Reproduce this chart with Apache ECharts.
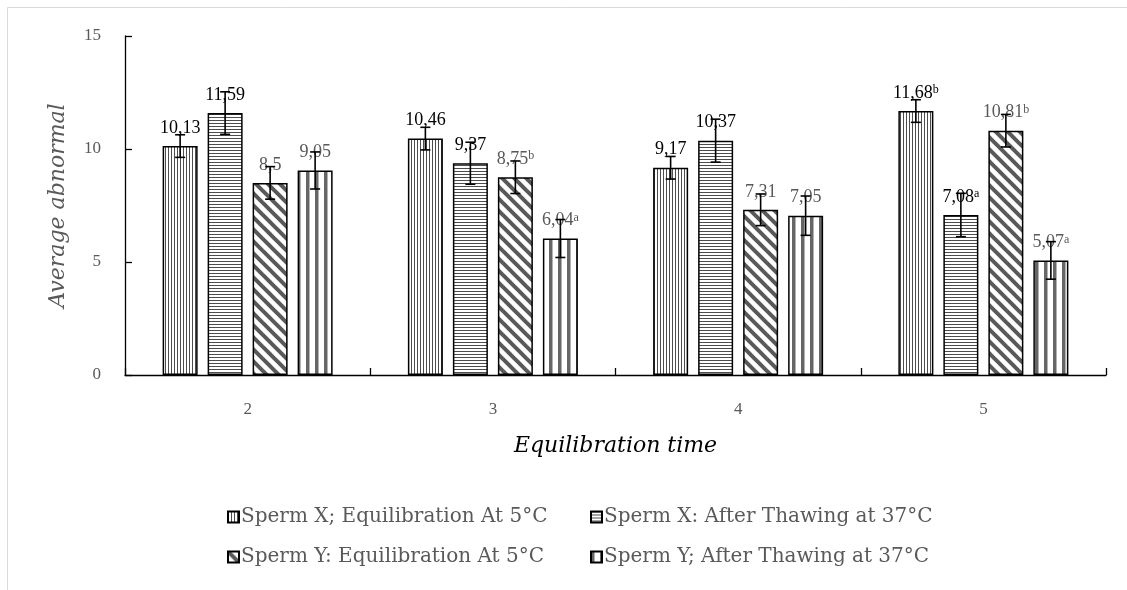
<!DOCTYPE html>
<html>
<head>
<meta charset="utf-8">
<script src="https://cdn.jsdelivr.net/npm/echarts@6/dist/echarts.min.js"></script>
<style>html,body{margin:0;padding:0;background:#fff}#c{width:1127px;height:590px}</style>
</head>
<body>
<div id="c"></div>
<script>
// ---- data ----
const categories = ['2', '3', '4', '5'];
const seriesNames = [
  'Sperm X; Equilibration At 5°C',
  'Sperm X: After Thawing at 37°C',
  'Sperm Y: Equilibration At 5°C',
  'Sperm Y; After Thawing at 37°C'
];
const spermXEquil = [10.13, 10.46, 9.17, 11.68];
const spermXThaw = [11.59, 9.37, 10.37, 7.08];
const spermYEquil = [8.5, 8.75, 7.31, 10.81];
const spermYThaw = [9.05, 6.04, 7.05, 5.07];
const errXEquil = [0.5, 0.5, 0.5, 0.5];
const errXThaw = [0.94, 0.93, 0.95, 0.96];
const errYEquil = [0.72, 0.72, 0.7, 0.72];
const errYThaw = [0.82, 0.84, 0.87, 0.83];
const labelsXEquil = ['10,13', '10,46', '9,17', '11,68|b'];
const labelsXThaw = ['11,59', '9,37', '10,37', '7,08|a'];
const labelsYEquil = ['8,5', '8,75|b', '7,31', '10,81|b'];
const labelsYThaw = ['9,05', '6,04|a', '7,05', '5,07|a'];
const yTicks = { min: 0, max: 15, interval: 5 };

const values = [spermXEquil, spermXThaw, spermYEquil, spermYThaw];
const errors = [errXEquil, errXThaw, errYEquil, errYThaw];
const labels = [labelsXEquil, labelsXThaw, labelsYEquil, labelsYThaw];

// ---- patterns ----
function mk(w, h, draw) {
  const c = document.createElement('canvas');
  c.width = w; c.height = h;
  const g = c.getContext('2d');
  g.fillStyle = '#fff'; g.fillRect(0, 0, w, h);
  draw(g, w, h);
  return { image: c, repeat: 'repeat' };
}
const pVert = mk(3, 3, (g) => { g.fillStyle = '#4d4d4d'; g.fillRect(0, 0, 1, 3); });
const pHorz = mk(3, 3, (g) => { g.fillStyle = '#4d4d4d'; g.fillRect(0, 0, 3, 1); });
const pDiag = mk(12, 12, (g, w, h) => {
  g.strokeStyle = '#595959'; g.lineWidth = 4; g.lineCap = 'square';
  for (const o of [-12, 0, 12]) { g.beginPath(); g.moveTo(o, 0); g.lineTo(o + 12, 12); g.stroke(); }
});
const pWide = mk(9, 9, (g) => { g.fillStyle = '#666'; g.fillRect(0, 0, 3.5, 9); });
const patterns = [pVert, pHorz, pDiag, pWide];
const labelColors = ['#000', '#000', '#595959', '#595959'];

const NUMFONT = 'Liberation Serif';
const FONT = 'DejaVu Serif';
const barWidth = 35, barGapPx = 10;

function fmt(s) {
  const p = s.split('|');
  return p.length > 1 ? '{v|' + p[0] + '}{s|' + p[1] + '}' : '{v|' + p[0] + '}';
}

const series = [];
values.forEach((vals, si) => {
  series.push({
    name: seriesNames[si],
    type: 'bar',
    barWidth: barWidth,
    barGap: (barGapPx / barWidth * 100) + '%',
    data: vals,
    itemStyle: { color: patterns[si], borderColor: '#000', borderWidth: 1.5 },
    label: {
      show: true, position: 'top', distance: 9,
      formatter: (p) => fmt(labels[si][p.dataIndex]),
      rich: {
        v: { fontFamily: NUMFONT, fontSize: 18, color: labelColors[si] },
        s: { fontFamily: NUMFONT, fontSize: 12, color: labelColors[si], verticalAlign: 'top', padding: [0, 0, 6, 0] }
      }
    },
    z: 2
  });
});
values.forEach((vals, si) => {
  const offset = (si - 1.5) * (barWidth + barGapPx);
  series.push({
    name: 'err' + si,
    type: 'custom',
    z: 5,
    silent: true,
    data: vals.map((v, i) => [i, v, errors[si][i]]),
    renderItem: (params, api) => {
      const ci = api.value(0), v = api.value(1), e = api.value(2);
      const x = api.coord([ci, v])[0] + offset;
      const yt = api.coord([ci, v + e])[1];
      const yb = api.coord([ci, v - e])[1];
      const st = { stroke: '#000', lineWidth: 1.6 };
      return {
        type: 'group',
        children: [
          { type: 'line', shape: { x1: x, y1: yt, x2: x, y2: yb }, style: st },
          { type: 'line', shape: { x1: x - 5, y1: yt, x2: x + 5, y2: yt }, style: st },
          { type: 'line', shape: { x1: x - 5, y1: yb, x2: x + 5, y2: yb }, style: st }
        ]
      };
    }
  });
});

const legendPos = [[222, 502], [585, 502], [222, 542], [585, 542]];
const legends = seriesNames.map((n, i) => ({
  data: [{ name: n, icon: 'rect' }], left: legendPos[i][0], top: legendPos[i][1],
  itemWidth: 11, itemHeight: 11, itemGap: 0,
  textStyle: { fontFamily: FONT, fontSize: 20, color: '#595959', padding: [0, 0, 0, -3] },
  selectedMode: false
}));

const chart = echarts.init(document.getElementById('c'), null, { renderer: 'canvas' });
chart.setOption({
  animation: false,
  backgroundColor: '#fff',
  graphic: [{
    type: 'rect', shape: { x: 7.5, y: 7.5, width: 1200, height: 700 },
    style: { fill: 'none', stroke: '#d9d9d9', lineWidth: 1 }, silent: true, z: -1
  }],
  grid: { left: 125, right: 21, top: 36, bottom: 215, containLabel: false },
  legend: legends,
  xAxis: {
    type: 'category', data: categories,
    name: 'Equilibration time', nameLocation: 'middle', nameGap: 60,
    nameTextStyle: { fontFamily: FONT, fontStyle: 'italic', fontSize: 22, color: '#000' },
    axisLine: { lineStyle: { color: '#000', width: 1.3 } },
    axisTick: { show: true, inside: true, length: 7, lineStyle: { color: '#000', width: 1.3 } },
    axisLabel: { fontFamily: NUMFONT, fontSize: 17, color: '#595959', margin: 26 }
  },
  yAxis: {
    type: 'value', min: yTicks.min, max: yTicks.max, interval: yTicks.interval,
    name: 'Average abnormal', nameLocation: 'middle', nameGap: 56, nameRotate: 90,
    nameTextStyle: { fontFamily: FONT, fontStyle: 'italic', fontSize: 22, color: '#595959' },
    splitLine: { show: false },
    axisLine: { show: true, lineStyle: { color: '#000', width: 1.3 } },
    axisTick: { show: true, inside: true, length: 7, lineStyle: { color: '#000', width: 1.3 } },
    axisLabel: { fontFamily: NUMFONT, fontSize: 17, color: '#595959', margin: 24 }
  },
  series: series
});
</script>
</body>
</html>
